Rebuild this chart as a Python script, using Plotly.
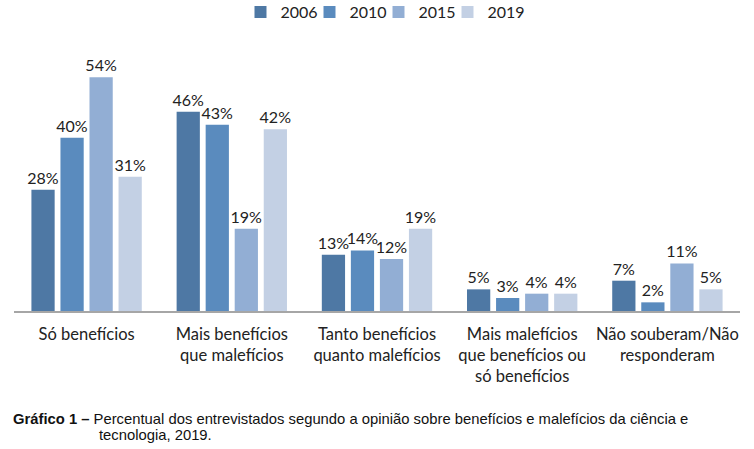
import plotly.graph_objects as go

categories = ["Só benefícios", "Mais benefícios<br>que malefícios", "Tanto benefícios<br>quanto malefícios",
              "Mais malefícios<br>que benefícios ou<br>só benefícios", "Não souberam/Não<br>responderam"]
years = ["2006", "2010", "2015", "2019"]
v2006 = [28, 46, 13, 5, 7]
v2010 = [40, 43, 14, 3, 2]
v2015 = [54, 19, 12, 4, 11]
v2019 = [31, 42, 19, 4, 5]
series = [v2006, v2010, v2015, v2019]
colors = ["#4E78A4", "#5A8BBE", "#92AED4", "#C3D0E4"]

FONT = "Lato, 'Open Sans', sans-serif"
CAP = "'Liberation Sans', Arial, sans-serif"

fig = go.Figure()
for name, vals, c in zip(years, series, colors):
    fig.add_trace(go.Bar(
        x=categories, y=vals, name=name, marker_color=c,
        marker_line_width=0,
        text=[f"{v}%" for v in vals], textposition="outside",
        textfont=dict(family=FONT, size=16, color="#222"),
        constraintext="none",
        cliponaxis=False,
    ))
# invisible spacer entry so the last legend label is not clipped
fig.add_trace(go.Scatter(x=[categories[0]], y=[None], name=" ", mode="lines",
                         line=dict(color="rgba(255,255,255,0)", width=0),
                         hoverinfo="skip", showlegend=True))

fig.update_layout(
    width=754, height=449,
    margin=dict(l=14, r=14, t=40, b=138, autoexpand=False),
    paper_bgcolor="white", plot_bgcolor="white",
    barmode="group", bargap=0.2, bargroupgap=0.2,
    font=dict(family=FONT, size=16, color="#222"),
    legend=dict(orientation="h", x=0.5 + 36 / 726, xanchor="center", y=1.103, yanchor="middle",
                font=dict(family=FONT, size=16, color="#222"),
                entrywidth=24, traceorder="normal"),
    xaxis=dict(showline=True, linecolor="#A6A6A6", linewidth=1.5, ticks="", automargin=False,
               ticklabelstandoff=7,
               tickfont=dict(family=FONT, size=16.5, color="#222")),
    yaxis=dict(visible=False, range=[0, 62.6], showgrid=False, automargin=False),
    showlegend=True,
)

fig.add_annotation(xref="paper", yref="paper", x=0, y=-108 / 271, xanchor="left", yanchor="middle",
                   xshift=-3, showarrow=False, align="left",
                   text="<b>Gráfico 1 –</b> Percentual dos entrevistados segundo a opinião sobre benefícios e malefícios da ciência e",
                   font=dict(family=CAP, size=14.8, color="#111"))
fig.add_annotation(xref="paper", yref="paper", x=(99 - 14) / 726, y=-124 / 271, xanchor="left", yanchor="middle",
                   xshift=-2, showarrow=False, align="left",
                   text="tecnologia, 2019.",
                   font=dict(family=CAP, size=14.8, color="#111"))

fig.write_html("out.html", post_script="document.body.style.margin='0';",
               config={"displayModeBar": False})
